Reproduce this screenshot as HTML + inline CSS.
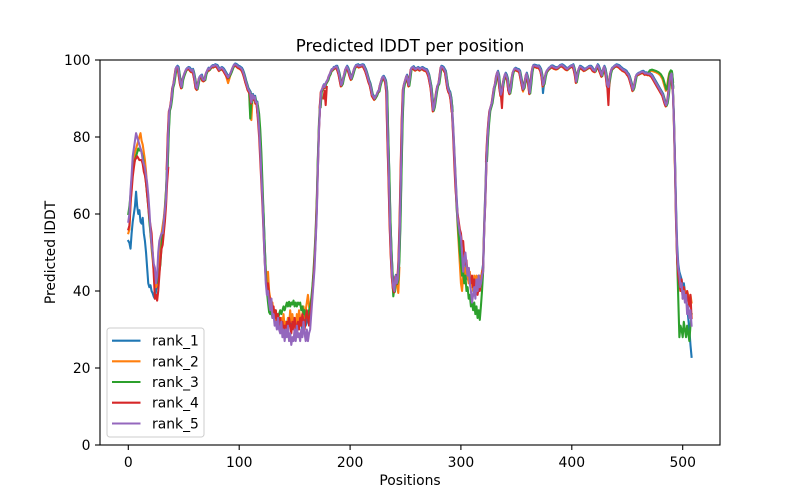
<!DOCTYPE html>
<html><head><meta charset="utf-8"><style>
html,body{margin:0;padding:0;background:#fff}
svg{display:block}
text{font-family:"DejaVu Sans","Liberation Sans",sans-serif;fill:#000}
polyline{vector-effect:non-scaling-stroke}
</style></head><body>
<svg width="800" height="500" viewBox="0 0 800 500" xmlns="http://www.w3.org/2000/svg">
<defs>
<clipPath id="c"><rect x="100" y="60" width="620" height="385"/></clipPath>
<polyline id="h1" fill="none" vector-effect="non-scaling-stroke" points="35,72 36,81 37,87 38,88 39,90 40,93 41,94 42,96 43,98 44,98.3 45,98 46,96 47,94 48,93 49,95 50,96 51,96.8 52,97.5 53,97.8 54,98 55,97.9 56,97.5 57,97.2 58,97.5 59,96.5 60,95 61,93 62,92.6 63,94 64,95.5 65,95.8 66,96 67,95 68,94.8 69,95 70,96.5 71,97.2 72,97.8 73,97.6 74,98 75,98.3 76,98.5 77,98.4 78,98.7 79,98.6 80,98.5 81,98 82,97.5 83,97.8 84,98 85,97.8 86,97.5 87,97 88,96.5 89,96 90,95.5 91,96 92,96.5 93,97.2 94,98 95,98.6 96,98.9 97,98.8 98,98.6 99,98.3 100,98.2 101,98 102,97.8 103,97.3 104,96.5 105,95.5 106,94.4 107,93.5 108,92.5 109,92 110,91.5 111,89 112,91 113,90 114,90.5 115,89 116,89 117,86"/>
<polyline id="h2" fill="none" vector-effect="non-scaling-stroke" points="173,88 174,92 175,92.5 176,93.5 177,93 178,94 179,94.5 180,95 181,96 182,96.5 183,97.4 184,97.5 185,98 186,98 187,98.3 188,98.3 189,97.5 190,96.5 191,95 192,93.5 193,94 194,95.5 195,96.5 196,97.8 197,98.3 198,97.8 199,97 200,96 201,95.2 202,96 203,97 204,98 205,98.5 206,98.6 207,98.7 208,98.4 209,98.5 210,98.6 211,98.7 212,98.6 213,98 214,97.4 215,96.5 216,95.5 217,94.5 218,93.8 219,92.5 220,91 221,90.5 222,90 223,90.5 224,91 225,91.8 226,92 227,93.5 228,94.5 229,95.5 230,95.7 231,95.2 232,94.5 233,92 234,80 235,70 236,58 237,50 238,44 239,41 240,40 241,44 242,42 243,43 244,48 245,58 246,72 247,85 248,92.6 249,94 250,95 251,96 252,95 253,93.5 254,95.5 255,97.8 256,98 257,98.2 258,97.8 259,97.6 260,97.8 261,98 262,97.8 263,97.6 264,97.9 265,98 266,97.8 267,97.6 268,97.5 269,97.4 270,96.8 271,96 272,94.5 273,93 274,90 275,87 276,88 277,90 278,92 279,93.5 280,94 281,96 282,98.3 283,98.2 284,98 285,97.5 286,97 287,95 288,93 289,92 290,91.5 291,90 292,87"/>
<polyline id="h4" fill="none" vector-effect="non-scaling-stroke" points="323,74 324,80 325,84 326,87 327,88 328,89 329,91 330,93 331,94 332,96 333,97 334,96 335,93 336,91 337,92 338,94 339,95.5 340,96.5 341,96 342,95 343,92.5 344,91.5 345,93 346,95.5 347,97 348,97.6 349,97.8 350,97.6 351,97.5 352,97.4 353,97 354,95.5 355,94 356,92.5 357,93 358,95 359,96.5 360,95.5 361,94 362,91.5 363,94 364,97 365,98.5 366,98.6 367,98.5 368,98.4 369,98.3 370,98.4 371,98 372,97.4 373,96 374,93.5 375,94 376,95.8 377,97 378,97.4 379,97.8 380,98 381,98.3 382,98.4 383,98.3 384,98.1 385,98 386,97.9 387,98 388,98.2 389,98.5 390,98.6 391,98.7 392,98.5 393,98.3 394,98 395,97.8 396,97.7 397,98 398,98.2 399,98.4 400,98.5 401,98.7 402,97.8 403,96.5 404,94.4 405,96 406,97.5 407,98.3 408,98.2 409,98 410,97.8 411,97.5 412,97.6 413,97.8 414,98 415,98.2 416,98.3 417,98.3 418,98 419,97.5 420,97.3 421,97.2 422,98 423,98.7 424,98.3 425,97.5 426,96.8 427,96 428,97.2 429,98.3 430,97.6 431,96 432,93.5 433,93 434,95 435,96.8 436,97.8 437,98 438,98.3 439,98.5 440,98.7 441,98.6 442,98.5 443,98.3 444,98 445,97.8 446,97.5 447,97.4 448,97.2 449,97 450,96.5 451,96.2 452,95.5 453,94.5 454,93.5 455,92.3 456,93 457,94.5 458,96 459,96.3 460,96.5 461,96.6 462,96.8 463,96.9 464,97 465,96.8 466,96.5 467,96.6 468,96.5 469,96.4 470,96.5 471,96.2 472,96 473,95.5 474,95 475,94.5 476,94 477,93.5 478,93 479,92.5 480,92 481,91.5 482,91 483,90 484,89 485,88.3 486,89 487,91 488,94 489,96 490,96.5 491,93"/>
<polyline id="hx" fill="none" vector-effect="non-scaling-stroke" points="469,96.5 470,97 472,97.2 474,97 476,96.8 478,96.5 480,96 482,95 484,93 485,92 486,93 487,95 488,96.5 489,97 490,96.8 491,94"/>
</defs>

<g clip-path="url(#c)">
<g transform="translate(128.3,445) scale(1.1088,-3.85)" fill="none" stroke-width="2.08" stroke-linejoin="round" stroke-linecap="square">

<g stroke="#1f77b4">
<polyline points="0,53 1,52.5 2,51 3,55 4,58 5,60 6,62 7,65.8 8,62 9,60 10,61 11,58 12,57.5 13,59 14,55 15,53 16,50 17,46 18,42 19,41 20,41.5 21,40 22,39.4 23,38.5 24,38 25,40 26,42 27,44 28,47 29,52 30,54 31,56 32,58 33,61 34,65 35,72"/>
<use href="#h1" transform="translate(0.4,0.2)"/>
<polyline points="117,86 118,82 119,77 120,71 121,65 122,60 123,52 124,45 125,42 126,43 127,38 128,36 129,35 130,36 131,34 132,35 133,33 134,34 135,32 136,33 137,31 138,32 139,30 140,33 141,31 142,32 143,30 144,33 145,31 146,32 147,30 148,31 149,33 150,31 151,32 152,30 153,31 154,33 155,31 156,32 157,30 158,31 159,33 160,31 161,32 162,34 163,33 164,35 165,37 166,40 167,44 168,48 169,54 170,62 171,74 172,83 173,88"/>
<use href="#h2" transform="translate(0.4,0.2)"/>
<polyline points="292,88 293,83 294,77 295,71 296,65 297,60 298,57 299,55 300,52 301,48 302,46 303,49 304,47 305,45 306,43 307,45 308,42 309,41 310,43 311,40 312,42 313,40 314,43 315,41 316,44 317,42 318,43 319,45 320,47 321,58 322,66 323,76"/>
<use href="#h4" transform="translate(0.4,0.2)"/>
<polyline points="373,96 374,91.4 375,94"/>
<polyline points="491,93 492,86 493,75 494,62 495,52 496,47 497,45 498,44 499,43 500,41 501,42 502,40 503,38 504,36 505,33 506,30 507,26 508,22.9"/>
</g>

<g stroke="#ff7f0e">
<polyline points="0,55 1,56 2,62 3,67 4,72 5,74 6,76 7,77 8,78 9,79 10,80 11,81 12,79 13,78 14,76 15,74 16,71 17,67 18,63 19,59 20,55 21,51 22,48 23,45 24,43 25,41 26,42 27,46 28,50 29,54 30,55 31,57 32,59 33,62 34,66 35,72"/>
<use href="#h1" transform="translate(-0.3,-0.4)"/>
<polyline points="88,96 90,94 92,96"/>
<polyline points="109,92 110,86 111,84.4 112,90"/>
<polyline points="117,87 118,84 119,79 120,73 121,66 122,58 123,50 124,44 125,42 126,45 127,40 128,38 129,36 130,37 131,33 132,35 133,32 134,34 135,31 136,33 137,30 138,33 139,31 140,34 141,30 142,32 143,29 144,33 145,31 146,35 147,32 148,34 149,31 150,33 151,30 152,34 153,32 154,35 155,33 156,31 157,34 158,36 159,33 160,35 161,37 162,39 163,36 164,34 165,37 166,40 167,44 168,49 169,55 170,63 171,74 172,83 173,88"/>
<use href="#h2" transform="translate(-0.3,-0.4)"/>
<polyline points="242,42 243.5,39.5 244.5,46"/>
<polyline points="292,87 293,82 294,76 295,70 296,63 297,57 298,52 299,47 300,42 301,40 302,44 303,46 304,43 305,47 306,44 307,42 308,45 309,41 310,43 311,40 312,44 313,42 314,44 315,41 316,43 317,44 318,42 319,45 320,46 321,57 322,65 323,75"/>
<use href="#h4" transform="translate(-0.3,-0.4)"/>
<polyline points="355,94 356,91.8 357,93"/>
<use href="#hx" transform="translate(-0.2,0)"/>
<polyline points="491,93 492,84 493,72 494,58 495,48 496,44 497,43 498,40 499,41 500,39 501,41 502,40 503,38 504,40 505,39 506,36 507,39 508,37"/>
</g>

<g stroke="#2ca02c">
<polyline points="0,60 1,62 2,65 3,69 4,72 5,73 6,74 7,75 8,76 9,77 10,76.5 11,77 12,76 13,75 14,73 15,71 16,68 17,65 18,62 19,58 20,55 21,52 22,49 23,46 24,44 25,43 26,44 27,42 28,45 29,47 30,52 31,55 32,58 33,61 34,66 35,73"/>
<use href="#h1" transform="translate(0.5,-0.2)"/>
<polyline points="109,91.5 110,84.8 111,89"/>
<polyline points="117,88 118,86 119,82 120,76 121,68 122,60 123,52 124,45 125,40 126,37 127,34.5 128,34 129,35 130,33 131,34 132,33 133,35 134,33 135,32.5 136,34 137,35 138,34 139,35 140,36 141,35 142,36 143,37 144,36 145,37.2 146,36 147,37 148,36.5 149,37.5 150,36 151,37 152,36 153,37 154,36.5 155,37 156,35 157,36 158,34 159,35 160,33 161,34 162,33 163,35 164,36 165,38 166,41 167,45 168,50 169,56 170,64 171,75 172,84 173,89"/>
<use href="#h2" transform="translate(0.5,-0.2)"/>
<polyline points="238,44 239,38.6 240,41"/>
<polyline points="292,86 293,81 294,75 295,69 296,62 297,58 298,54 299,50 300,47 301,44 302,45 303,42 304,44 305,40 306,41 307,38 308,39 309,36 310,37 311,35 312,37 313,34 314,36 315,33 316,35 317,32.5 318,36 319,40 320,45 321,56 322,64 323,74"/>
<use href="#h4" transform="translate(0.5,-0.2)"/>
<use href="#hx" transform="translate(0.3,0.3)"/>
<polyline points="491,94 492,86 493,74 494,60 495,48 496,38 497,28 498,31 499,30 500,28 501,32 502,30 503,28 504,31 505,29 506,27 507,31 508,34"/>
</g>

<g stroke="#d62728">
<polyline points="0,56 1,57 2,63 3,66 4,69.7 5,72 6,74 7,74.5 8,75 9,74.5 10,74 11,74 12,74 13,73 14,71 15,70 16,68 17,65 18,62 19,59 20,57 21,55 22,50 23,44 24,38 25,39 26,37.5 27,40 28,44 29,48 30,51 31,52 32,55 33,58 34,62 35,68 36,72"/>
<use href="#h1" transform="translate(-0.4,-0.3)"/>
<polyline points="116,88 117,84 118,80 119,74 120,68 121,62 122,55 123,48 124,43 125,41 126,42 127,39 128,37 129,38 130,35 131,36 132,33 133,35 134,32 135,34 136,31 137,33 138,30 139,32 140,29 141,31 142,30 143,32 144,30 145,33 146,31 147,29 148,32 149,30 150,33 151,31 152,29 153,32 154,30 155,33 156,31 157,34 158,32 159,30 160,33 161,35 162,33 163,31 164,34 165,36 166,39 167,43 168,48 169,54 170,62 171,72 172,82 173,88"/>
<use href="#h2" transform="translate(-0.4,-0.3)"/>
<polyline points="176,90 177,92 178,88.3 179,93"/>
<polyline points="292,86 293,80 294,73 295,67 296,63 297,60 298,58 299,56 300,55 301,52 302,53 303,49 304,47 305,48 306,44 307,46 308,43 309,42 310,44 311,41 312,43 313,40 314,42 315,39 316,41 317,40 318,42 319,44 320,46 321,56 322,63 323,73"/>
<use href="#h4" transform="translate(-0.4,-0.3)"/>
<polyline points="336,91 337,87.5 338,93"/>
<polyline points="432,93 433,88.3 434,95"/>
<polyline points="491,93 492,85 493,73 494,58 495,48 496,44 497,42 498,40 499,43 500,38 501,41 502,39 503,37 504,40 505,38 506,36 507,39 508,33"/>
</g>

<g stroke="#9467bd">
<polyline points="0,58 1,60 2,66 3,70 4,75 5,77 6,79 7,81 8,80 9,79 10,78 11,77 12,76 13,74 14,73 15,72 16,70 17,68 18,65 19,61 20,56 21,52 22,50 23,47 24,46 25,42 26,44 27,50 28,53 29,54 30,55 31,55 32,58 33,61 34,64 35,72"/>
<use href="#h1"/>
<polyline points="117,86 118,82 119,77 120,70 121,64 122,56 123,48 124,42 125,39 126,40 127,37 128,35 129,38 130,33 131,34 132,31 133,32 134,30 135,33 136,30 137,29 138,32 139,28 140,30 141,27 142,30 143,28 144,31 145,27 146,29 147,26 148,28 149,27 150,30 151,27 152,31 153,28 154,29 155,27 156,30 157,28 158,32 159,29 160,27 161,30 162,27 163,29 164,30 165,34 166,38 167,42 168,46 169,53 170,60 171,72 172,82 173,88"/>
<use href="#h2"/>
<polyline points="292,87 293,82 294,76 295,70 296,64 297,59 298,57 299,55 300,54 301,50 302,45 303,48 304,50 305,47 306,44 307,46 308,42 309,40 310,37 311,39 312,41 313,38 314,43 315,40 316,44 317,41 318,42 319,44 320,45 321,56 322,64 323,74"/>
<use href="#h4"/>
<polyline points="491,93 492,85 493,74 494,60 495,50 496,46 497,44 498,41 499,42 500,38 501,40 502,37 503,39 504,34 505,36 506,33 507,35 508,31"/>
</g>

</g>
</g>

<rect x="100" y="60" width="620" height="385" fill="none" stroke="#000" stroke-width="1.1"/>

<g stroke="#000" stroke-width="1.1">
<line x1="128.3" y1="445" x2="128.3" y2="450"/>
<line x1="239.2" y1="445" x2="239.2" y2="450"/>
<line x1="350.1" y1="445" x2="350.1" y2="450"/>
<line x1="460.9" y1="445" x2="460.9" y2="450"/>
<line x1="571.8" y1="445" x2="571.8" y2="450"/>
<line x1="682.7" y1="445" x2="682.7" y2="450"/>
<line x1="95" y1="445" x2="100" y2="445"/>
<line x1="95" y1="368" x2="100" y2="368"/>
<line x1="95" y1="291" x2="100" y2="291"/>
<line x1="95" y1="214" x2="100" y2="214"/>
<line x1="95" y1="137" x2="100" y2="137"/>
<line x1="95" y1="60" x2="100" y2="60"/>
</g>
<g font-size="13.9" text-anchor="middle">
<text x="128.3" y="467">0</text>
<text x="239.2" y="467">100</text>
<text x="350.1" y="467">200</text>
<text x="460.9" y="467">300</text>
<text x="571.8" y="467">400</text>
<text x="682.7" y="467">500</text>
</g>
<g font-size="13.9" text-anchor="end">
<text x="90.5" y="450">0</text>
<text x="90.5" y="373">20</text>
<text x="90.5" y="296">40</text>
<text x="90.5" y="219">60</text>
<text x="90.5" y="142">80</text>
<text x="90.5" y="65">100</text>
</g>
<text x="410" y="485" font-size="13.9" text-anchor="middle">Positions</text>
<text transform="translate(55,252.5) rotate(-90)" font-size="13.9" text-anchor="middle">Predicted lDDT</text>
<text x="410" y="51.5" font-size="16.7" text-anchor="middle">Predicted lDDT per position</text>

<rect x="107" y="328" width="97" height="109" rx="2.8" ry="2.8" fill="#fff" fill-opacity="0.8" stroke="#cccccc" stroke-width="1"/>
<g stroke-width="2.08">
<line x1="112" y1="340.7" x2="140.5" y2="340.7" stroke="#1f77b4"/>
<line x1="112" y1="361.3" x2="140.5" y2="361.3" stroke="#ff7f0e"/>
<line x1="112" y1="382" x2="140.5" y2="382" stroke="#2ca02c"/>
<line x1="112" y1="402.7" x2="140.5" y2="402.7" stroke="#d62728"/>
<line x1="112" y1="423.5" x2="140.5" y2="423.5" stroke="#9467bd"/>
</g>
<g font-size="13.9">
<text x="152" y="345.7">rank_1</text>
<text x="152" y="366.3">rank_2</text>
<text x="152" y="387">rank_3</text>
<text x="152" y="407.7">rank_4</text>
<text x="152" y="428.5">rank_5</text>
</g>
</svg>
</body></html>
